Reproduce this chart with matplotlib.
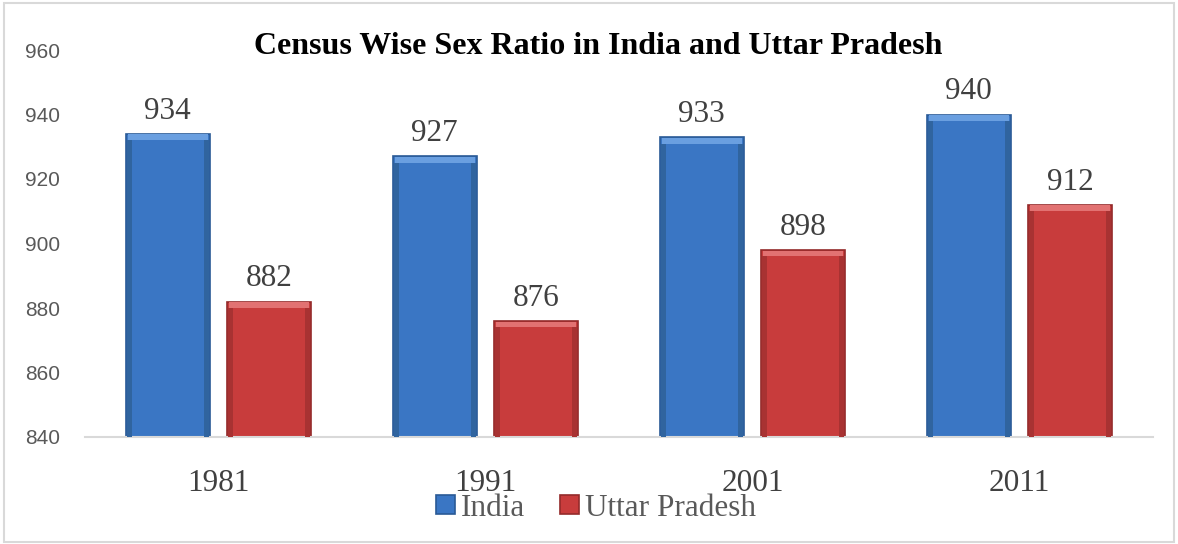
import numpy as np
import matplotlib.pyplot as plt
from matplotlib.patches import Rectangle

years = ['1981', '1991', '2001', '2011']
india = [934, 927, 933, 940]
uttar_pradesh = [882, 876, 898, 912]

fig = plt.figure(figsize=(11.78, 5.44), dpi=100)
ax = fig.add_axes([85 / 1178, 1 - 437 / 544, 1068 / 1178, 387 / 544])

x = np.arange(len(years))
w = 0.315
off = 0.19

b1 = ax.bar(x - off, [v - 840 for v in india], w, bottom=840, color='#3a76c4',
            edgecolor='#2a5a96', linewidth=1.2, label='India')
b2 = ax.bar(x + off, [v - 840 for v in uttar_pradesh], w, bottom=840, color='#c83c3c',
            edgecolor='#942a2a', linewidth=1.2, label='Uttar Pradesh')

# simple bevel: light strip on top, darker strips on the sides
for bars, light, dark in ((b1, '#6a9fe0', '#30649f'), (b2, '#e27272', '#a83232')):
    for r in bars:
        x0, y0, bw, bh = r.get_x(), r.get_y(), r.get_width(), r.get_height()
        ax.add_patch(Rectangle((x0 + 0.008, y0 + bh - 2.0), bw - 0.016, 1.8,
                               color=light, lw=0, zorder=3))
        ax.add_patch(Rectangle((x0 + 0.004, y0), 0.018, bh - 2.0, color=dark, lw=0, zorder=3))
        ax.add_patch(Rectangle((x0 + bw - 0.022, y0), 0.018, bh - 2.0, color=dark, lw=0, zorder=3))

for xs, vals in ((x - off, india), (x + off, uttar_pradesh)):
    for xi, v in zip(xs, vals):
        ax.text(xi, v + 2.5, str(v), ha='center', va='bottom', fontsize=22.5,
                family='Liberation Serif', color='#404040')

ax.set_xlim(-0.5, 3.5)
ax.set_ylim(840, 960)
ax.set_yticks(range(840, 961, 20))
ax.set_xticks(x)
ax.set_xticklabels(years, family='Liberation Serif', fontsize=22.5, color='#404040')
ax.tick_params(axis='x', length=0, pad=23)
ax.tick_params(axis='y', length=0, pad=18, labelsize=15, labelcolor='#595959')
for t in ax.get_yticklabels():
    t.set_family('Liberation Sans')
for s in ('top', 'right', 'left'):
    ax.spines[s].set_visible(False)
ax.spines['bottom'].set_color('#d9d9d9')
ax.spines['bottom'].set_linewidth(1.5)

fig.text(598 / 1178, 1 - 47 / 544, 'Census Wise Sex Ratio in India and Uttar Pradesh',
         ha='center', va='center', fontsize=23, fontweight='bold',
         family='Liberation Serif', color='black')

leg = fig.legend(loc='center', bbox_to_anchor=(596 / 1178, 1 - 508 / 544), ncol=2,
                 frameon=False, prop={'family': 'Liberation Serif', 'size': 22.5},
                 handlelength=0.6, handleheight=0.6, handletextpad=0.2, columnspacing=1.1)
for t in leg.get_texts():
    t.set_color('#595959')

fig.patches.append(Rectangle((0.003, 0.004), 0.994, 0.99, transform=fig.transFigure,
                             fill=False, edgecolor='#d9d9d9', linewidth=1.5))

fig.savefig('out.png', dpi=100)
